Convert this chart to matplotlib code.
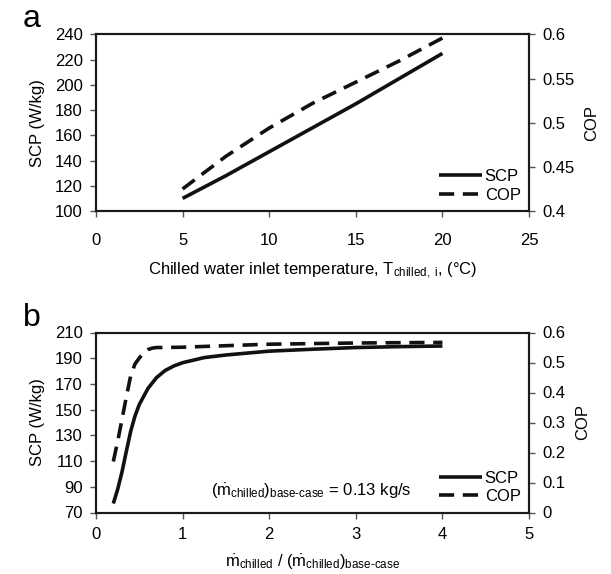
import matplotlib
matplotlib.use("Agg")
import matplotlib.pyplot as plt
from matplotlib.ticker import FormatStrFormatter

plt.rcParams["font.family"] = ["Liberation Sans", "DejaVu Sans"]
plt.rcParams["mathtext.fontset"] = "custom"
plt.rcParams["mathtext.rm"] = "Liberation Sans"
plt.rcParams["mathtext.it"] = "Liberation Sans:italic"
plt.rcParams["mathtext.bf"] = "Liberation Sans:bold"

# (a) effect of chilled water inlet temperature
t_chilled = [5, 7.5, 10, 12.5, 15, 17.5, 20]
scp_a = [110, 128, 147, 166, 185, 205, 225]
cop_a = [0.425, 0.462, 0.494, 0.522, 0.546, 0.570, 0.596]

# (b) effect of chilled water mass flow ratio
flow_scp = [0.2, 0.25, 0.3, 0.35, 0.4, 0.45, 0.5, 0.6, 0.7, 0.8, 0.9, 1.0,
            1.25, 1.5, 2.0, 2.5, 3.0, 3.5, 4.0]
scp_b = [77, 88, 101.5, 117.5, 133, 145, 154, 166.5, 175, 180.5, 184, 186.5,
         190.5, 192.5, 195.5, 197, 198.3, 199, 199.5]
flow_cop = [0.2, 0.25, 0.3, 0.35, 0.4, 0.45, 0.5, 0.55, 0.6, 0.65, 0.7, 0.8,
            1.0, 1.5, 2.0, 2.5, 3.0, 3.5, 4.0]
cop_b = [0.170, 0.237, 0.310, 0.385, 0.455, 0.495, 0.515, 0.533, 0.543, 0.548,
         0.550, 0.550, 0.551, 0.556, 0.561, 0.563, 0.565, 0.566, 0.567]

LW = 2.6
DASH = (4.2, 2.4)
FS = 12

fig = plt.figure(figsize=(6.11, 5.74), dpi=100)


def style(ax, twin, xpad):
    for a in (ax, twin):
        for s in a.spines.values():
            s.set_linewidth(1.5)
            s.set_color("#1a1a1a")
    ax.tick_params(axis="both", direction="out", length=4, width=1.0,
                   color="#555555", labelsize=FS, pad=5.5)
    ax.tick_params(axis="x", pad=xpad)
    twin.tick_params(axis="y", direction="out", length=4, width=1.0,
                     color="#555555", labelsize=FS, pad=5.5)


def panel(rect, x1, y1, x2, y2, xlim, xticks, ylim, yticks, y2lim, y2ticks,
          xlabel, letter, letter_y, xpad, xlabelpad):
    ax = fig.add_axes(rect)
    tw = ax.twinx()
    l1, = ax.plot(x1, y1, color="#111111", lw=LW, solid_capstyle="butt",
                  solid_joinstyle="round", label="SCP")
    l2, = tw.plot(x2, y2, color="#111111", lw=LW, dashes=DASH, label="COP")
    ax.set_xlim(*xlim)
    ax.set_xticks(xticks)
    ax.set_ylim(*ylim)
    ax.set_yticks(yticks)
    tw.set_ylim(*y2lim)
    tw.set_yticks(y2ticks)
    tw.yaxis.set_major_formatter(FormatStrFormatter("%g"))
    style(ax, tw, xpad)
    ax.set_ylabel("SCP (W/kg)", fontsize=FS, labelpad=7)
    tw.set_ylabel("COP", fontsize=FS, labelpad=7)
    ax.set_xlabel(xlabel, fontsize=FS, labelpad=xlabelpad)
    tw.legend([l1, l2], ["SCP", "COP"], loc="lower right", frameon=False,
              fontsize=FS, handlelength=2.6, handletextpad=0.15,
              labelspacing=0.2, borderaxespad=0.1,
              bbox_to_anchor=(1.0, 0.0))
    ax.text(-0.169, letter_y, letter, transform=ax.transAxes, fontsize=23,
            ha="left", va="baseline")
    return ax, tw


ax_a, tw_a = panel(
    [96 / 611, 1 - 211 / 574, 433 / 611, 176.5 / 574],
    t_chilled, scp_a, t_chilled, cop_a,
    (0, 25), [0, 5, 10, 15, 20, 25],
    (100, 240), list(range(100, 241, 20)),
    (0.4, 0.6), [0.4, 0.45, 0.5, 0.55, 0.6],
    r"Chilled water inlet temperature, T$_{\mathrm{chilled,\ i}}$, (°C)",
    "a", 1.042, 12, 9)

ax_b, tw_b = panel(
    [96 / 611, 1 - 512.5 / 574, 433 / 611, 180 / 574],
    flow_scp, scp_b, flow_cop, cop_b,
    (0, 5), [0, 1, 2, 3, 4, 5],
    (70, 210), list(range(70, 211, 20)),
    (0, 0.6), [0, 0.1, 0.2, 0.3, 0.4, 0.5, 0.6],
    r"$\dot{\mathrm{m}}_{\mathrm{chilled}}$ / "
    r"$(\dot{\mathrm{m}}_{\mathrm{chilled}})_{\text{base-case}}$",
    "b", 1.037, 6.5, 8)

ax_b.text(0.498, 0.115,
          r"$(\dot{\mathrm{m}}_{\mathrm{chilled}})_{\text{base-case}}$ = 0.13 kg/s",
          transform=ax_b.transAxes, fontsize=FS, ha="center", va="center")

fig.savefig("out.png", dpi=100)
